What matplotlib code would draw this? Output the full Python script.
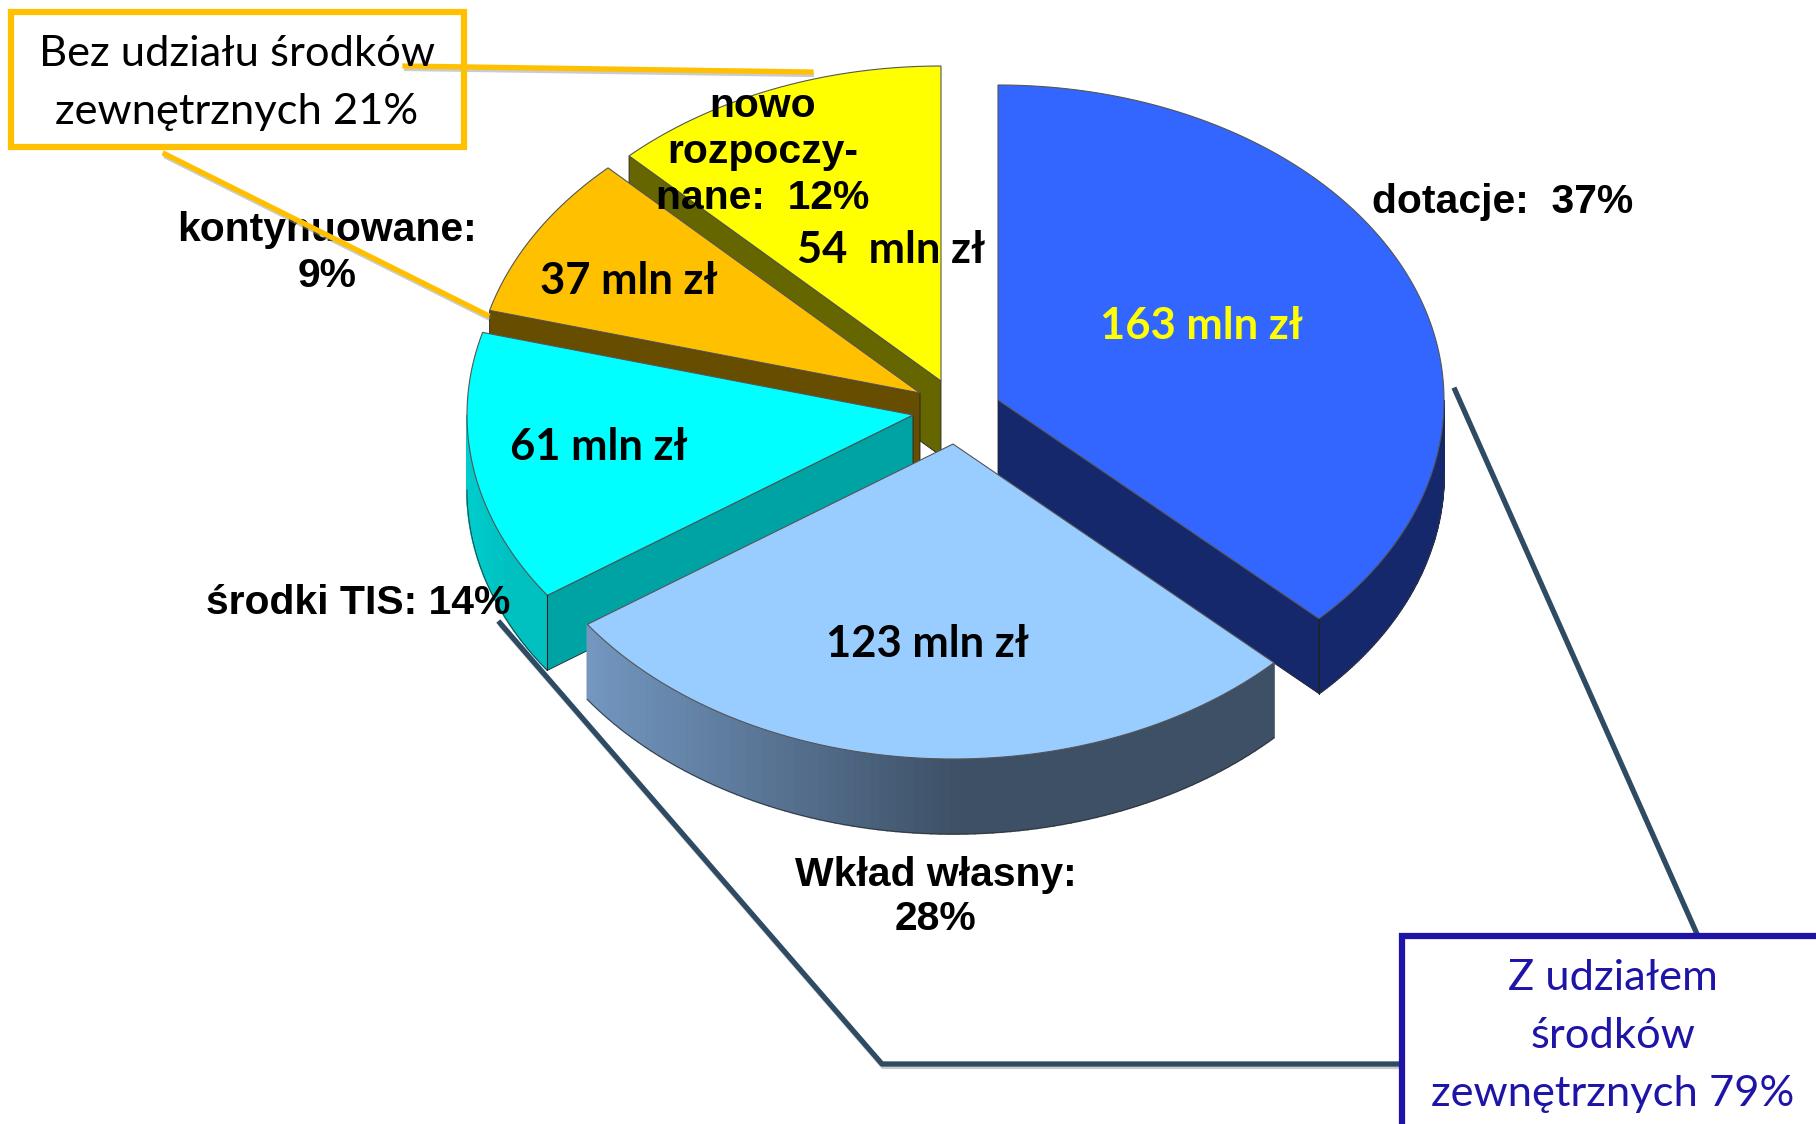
import numpy as np
import matplotlib
matplotlib.use('Agg')
import matplotlib.pyplot as plt
from matplotlib.colors import to_rgb
from matplotlib.patches import Rectangle

# values (mln zl), clockwise from the top
categories = ['dotacje', 'Wkład własny', 'środki TIS', 'kontynuowane', 'nowo rozpoczynane']
values = [163, 123, 61, 37, 54]
value_labels = ['163 mln zł', '123 mln zł', '61 mln zł', '37 mln zł', '54  mln zł']
name_labels = ['dotacje:  37%', 'Wkład własny:\n28%', 'środki TIS: 14%', 'kontynuowane:\n9%',
               'nowo\nrozpoczy-\nnane:  12%']
box_left = 'Bez udziału środków\nzewnętrznych 21%'
box_right = 'Z udziałem\nśrodków\nzewnętrznych 79%'

top_colors = ['#3366FF', '#99CCFF', '#00FFFF', '#FFC000', '#FFFF00']
wall_colors = ['#14286B', '#3D5066', '#00A3A3', '#664D00', '#666600']
rim_left = ['#14286B', '#7397C0', '#00CCCC', '#664D00', '#666600']
rim_right = ['#14286B', '#3D5066', '#00C0C0', '#664D00', '#666600']

# apex of every exploded slice, in pixels
centers = [(998, 400), (953, 444), (913, 415), (920, 393), (941, 381)]
rx, ry, depth = 446, 315, 75

fig = plt.figure(figsize=(18.16, 11.24), dpi=100)
ax = fig.add_axes([0, 0, 1, 1])
ax.set_xlim(0, 1816)
ax.set_ylim(1124, 0)
ax.axis('off')

edges = np.cumsum([0] + values) / sum(values) * 2 * np.pi


def point(c, t):
    return c[0] + rx * np.sin(t), c[1] - ry * np.cos(t)


# slices are painted back to front
for i in [4, 3, 2, 0, 1]:
    c = centers[i]
    t0, t1 = edges[i], edges[i + 1]

    # outer rim, only the front half shows
    a = max(t0, np.pi / 2)
    b = min(t1, 1.5 * np.pi)
    has_rim = b > a
    if has_rim:
        tt = np.linspace(a, b, 90)
        xs, ys = point(c, tt)
        x_left, x_mid = xs.min(), xs.min() + (xs.max() - xs.min()) * 0.54
        for k in range(len(tt) - 1):
            f = np.clip(((xs[k] + xs[k + 1]) / 2 - x_left) / (x_mid - x_left), 0, 1)
            col = (1 - f) * np.array(to_rgb(rim_left[i])) + f * np.array(to_rgb(rim_right[i]))
            ax.fill([xs[k], xs[k + 1], xs[k + 1], xs[k]],
                    [ys[k], ys[k + 1], ys[k + 1] + depth, ys[k] + depth],
                    color=tuple(col), lw=1.2)
        ax.plot(xs, ys + depth, color='#333333', lw=0.6)

    # flat walls of the cut, with the thin corner line next to the rim
    for t, show in [(t0, np.sin(t0) < -1e-6), (t1, np.sin(t1) > 1e-6)]:
        if show:
            x, y = point(c, t)
            ax.fill([c[0], x, x, c[0]], [c[1], y, y + depth, c[1] + depth],
                    color=wall_colors[i], ec='#222222', lw=0.6)
            if has_rim:
                ax.plot([x, x], [y, y + depth], color='#222222', lw=0.7)

    # top face
    tt = np.linspace(t0, t1, 120)
    xs, ys = point(c, tt)
    ax.fill(np.r_[c[0], xs], np.r_[c[1], ys], color=top_colors[i], ec='#555555', lw=0.8)

# leader lines, grey copy underneath stands for the shadow
leaders = [
    ([405, 811], [66, 72], '#FFC000'),
    ([165, 487], [154, 315], '#FFC000'),
    ([1455, 1697], [390, 934], '#2F4A63'),
    ([500, 882, 1401], [623, 1064, 1064], '#2F4A63'),
]
for lx, ly, col in leaders:
    ax.plot(np.array(lx) + 1, np.array(ly) + 3, color='#999999', lw=3, alpha=0.5, zorder=5)
    ax.plot(lx, ly, color=col, lw=3.8, zorder=6)

# boxes
ax.add_patch(Rectangle((11, 12), 453, 135, fc='none', ec='#FFC000', lw=4.5, zorder=7))
ax.add_patch(Rectangle((1402, 936), 500, 300, fc='white', ec='#1F14A8', lw=4.5, zorder=7))
ax.text(237, 83, box_left, family='Lato', fontsize=31.3, color='black', ha='center', va='center',
        linespacing=1.63, zorder=8)
ax.text(1613, 1036, box_right, family='Lato', fontsize=31.3, color='#1F14A8', ha='center', va='center',
        linespacing=1.63, zorder=8)

# labels
value_pos = [(1201, 326), (928, 644), (599, 447), (629, 281), (891, 250)]
value_cols = ['#FFFF00', 'black', 'black', 'black', 'black']
for s, p, col in zip(value_labels, value_pos, value_cols):
    ax.text(p[0], p[1], s, family='Lato', fontweight='bold', fontsize=31.3, color=col,
            ha='center', va='center', zorder=4)

name_pos = [(1503, 202), (936, 897), (358, 603), (327, 253), (763, 152)]
name_spacing = [1.22, 1.22, 1.22, 1.26, 1.27]
for s, p, ls in zip(name_labels, name_pos, name_spacing):
    ax.text(p[0], p[1], s, family='Liberation Sans', fontweight='bold', fontsize=29.4, color='black',
            ha='center', va='center', linespacing=ls, zorder=4)

fig.savefig('out.png', dpi=100)
